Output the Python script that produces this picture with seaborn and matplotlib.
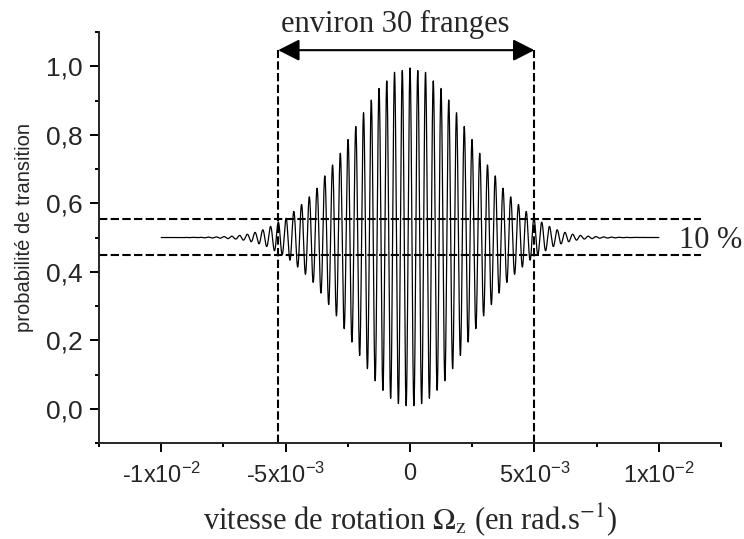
import numpy as np
import pandas as pd
import matplotlib
matplotlib.use("Agg")
import matplotlib.pyplot as plt
import seaborn as sns
from matplotlib.ticker import FixedLocator, MultipleLocator

# ---- data ----
# fringe envelope (contrast) versus |rotation rate|
env_x = [0.0, 3.1e-4, 6.2e-4, 9.3e-4, 1.25e-3, 1.57e-3, 1.88e-3, 2.19e-3, 2.51e-3,
         2.81e-3, 3.14e-3, 3.45e-3, 3.75e-3, 4.06e-3, 4.38e-3, 4.69e-3, 5.0e-3,
         5.36e-3, 5.72e-3, 6.17e-3, 6.57e-3, 7.0e-3, 7.65e-3, 8.5e-3, 1.0e-2]
env_amp = [0.99, 0.975, 0.965, 0.915, 0.87, 0.80, 0.726, 0.646, 0.568,
           0.49, 0.418, 0.355, 0.285, 0.236, 0.19, 0.15, 0.11,
           0.085, 0.055, 0.032, 0.018, 0.009, 0.004, 0.001, 0.0]
fringe_period = 3.115e-4      # rad/s per fringe
mean_level = 0.5
omega_range = [-0.01, 0.01]

band_levels = [0.45, 0.555]           # "10 %" band
fringe_bounds = [-0.0053, 0.005]      # "environ 30 franges"

x_ticks = [-0.01, -0.005, 0.0, 0.005, 0.01]
x_ticklabels = [r"-1x10$^{-2}$", r"-5x10$^{-3}$", "0", r"5x10$^{-3}$", r"1x10$^{-2}$"]
y_ticks = [0.0, 0.2, 0.4, 0.6, 0.8, 1.0]
y_ticklabels = ["0,0", "0,2", "0,4", "0,6", "0,8", "1,0"]

# ---- build curve ----
omega = np.linspace(omega_range[0], omega_range[1], 12001)
amp = np.interp(np.abs(omega), env_x, env_amp)
prob = mean_level + 0.5 * amp * np.cos(2 * np.pi * omega / fringe_period)
df = pd.DataFrame({"omega": omega, "prob": prob})

sns.set_style("ticks")
plt.rcParams["font.family"] = ["Liberation Sans", "DejaVu Sans"]
plt.rcParams["mathtext.fontset"] = "custom"
plt.rcParams["mathtext.rm"] = "Liberation Sans"
plt.rcParams["mathtext.it"] = "Liberation Sans:italic"
plt.rcParams["mathtext.bf"] = "Liberation Sans:bold"

fig = plt.figure(figsize=(7.44, 5.39), dpi=100)
ax = fig.add_axes([0.1331, 0.1781, 0.8360, 0.7625])

sns.lineplot(data=df, x="omega", y="prob", color="black", lw=0.9, ax=ax,
             estimator=None, sort=False)

ax.set_xlim(-0.0125, 0.0125)
ax.set_ylim(-0.1, 1.1)

dash = (0, (4, 1.6))
for lv in band_levels:
    ax.plot([-0.0125, 0.0117], [lv, lv], color="black", lw=1.5, ls=dash, clip_on=False)
for xb in fringe_bounds:
    ax.plot([xb, xb], [-0.1, 1.047], color="black", lw=1.5, ls=dash, clip_on=False)

ax.annotate("", xy=(fringe_bounds[0], 1.047), xytext=(fringe_bounds[1], 1.047),
            arrowprops=dict(arrowstyle="<|-|>,head_length=0.65,head_width=0.33",
                            mutation_scale=20, color="black", lw=1.5,
                            shrinkA=0, shrinkB=0),
            annotation_clip=False)
ax.text(-0.0006, 1.099, "environ 30 franges", ha="center", va="baseline",
        family="Liberation Serif", fontsize=22, clip_on=False)
ax.text(0.0108, 0.468, "10 %", ha="left", va="baseline",
        family="Liberation Serif", fontsize=22, clip_on=False)

for s in ["top", "right"]:
    ax.spines[s].set_visible(False)
for s in ["left", "bottom"]:
    ax.spines[s].set_linewidth(1.4)

ax.xaxis.set_major_locator(FixedLocator(x_ticks))
ax.set_xticklabels(x_ticklabels)
ax.xaxis.set_minor_locator(MultipleLocator(0.0025))
ax.yaxis.set_major_locator(FixedLocator(y_ticks))
ax.set_yticklabels(y_ticklabels)
ax.yaxis.set_minor_locator(MultipleLocator(0.1))

ax.tick_params(which="major", direction="out", length=6.5, width=1.4, color="black")
ax.tick_params(which="minor", direction="out", length=3, width=1.4, color="black")
ax.tick_params(axis="x", which="major", labelsize=17, pad=8)
ax.tick_params(axis="y", which="major", labelsize=19, pad=5)

ax.set_xlabel(r"vitesse de rotation $\Omega_{\mathrm{z}}$ (en rad.s$^{-1}$)",
              family="Liberation Serif", math_fontfamily="stix", fontsize=22,
              va="baseline")
ax.xaxis.set_label_coords(0.5, -0.209)
ax.set_ylabel("probabilité de transition", fontsize=14.5)
ax.yaxis.set_label_coords(-0.1045, 0.524)

fig.savefig("out.png", dpi=100)
